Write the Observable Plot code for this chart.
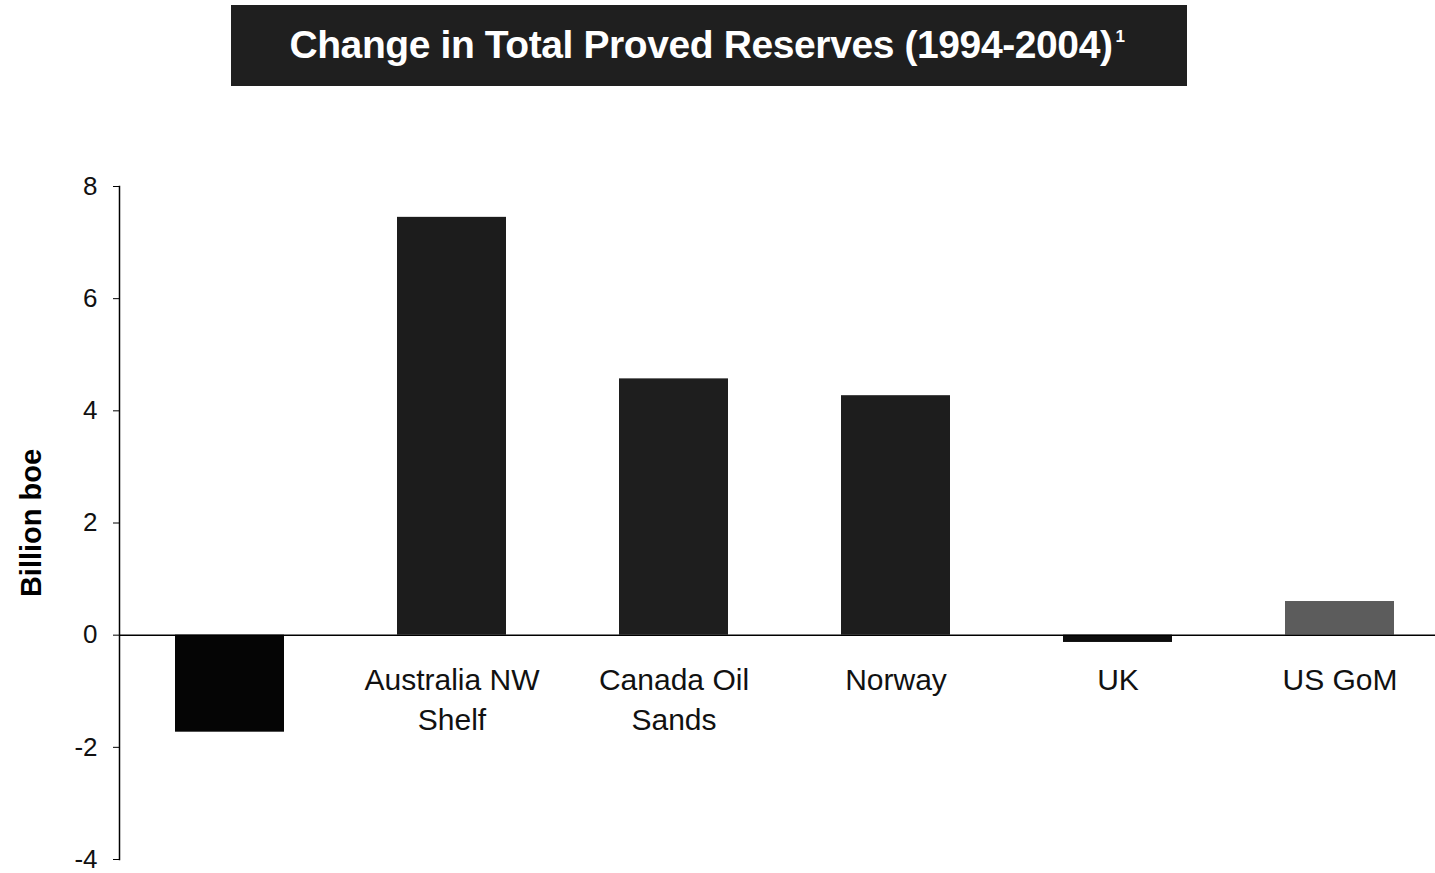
<!DOCTYPE html>
<html>
<head>
<meta charset="utf-8">
<script src="https://cdn.jsdelivr.net/npm/d3@7"></script>
<script src="https://cdn.jsdelivr.net/npm/@observablehq/plot@0.6"></script>
<style>
  html, body { margin: 0; padding: 0; background: #fff; }
  body { width: 1435px; height: 873px; overflow: hidden; font-family: "Liberation Sans", Arial, sans-serif; }
  #header { position: relative; height: 100px; }
  #title {
    position: absolute; left: 231px; top: 5px; width: 956px; height: 81px;
    background: #1f1f1f; color: #fff; font-weight: bold; font-size: 39px;
    display: flex; align-items: center; justify-content: center; letter-spacing: -0.4px;
  }
  #title span { position: relative; left: -2px; top: -1px; }
  #title sup { font-size: 17px; vertical-align: 16px; margin-left: 3px; }
  #chart svg { display: block; font-family: "Liberation Sans", Arial, sans-serif; }
  #chart svg [aria-label="y-axis label"] text { font-weight: bold; font-size: 29px; }
</style>
</head>
<body>
<div id="header"><div id="title"><span>Change in Total Proved Reserves (1994-2004)<sup>1</sup></span></div></div>
<div id="chart"></div>
<script>
const categories = ["", "Australia NW Shelf", "Canada Oil Sands", "Norway", "UK", "US GoM"];
const values = [-1.73, 7.45, 4.57, 4.27, -0.13, 0.6];
const categoryLabels = ["", "Australia NW\nShelf", "Canada Oil\nSands", "Norway", "UK", "US GoM"];
const yTicks = [-4, -2, 0, 2, 4, 6, 8];
const yLabel = "Billion boe";

const data = categories.map((c, i) => ({cat: c, value: values[i], label: categoryLabels[i]}));

const chart = Plot.plot({
  width: 1435,
  height: 773,
  marginLeft: 119,
  marginRight: -14,
  marginTop: 86,
  marginBottom: 14,
  style: {fontFamily: "'Liberation Sans', Arial, sans-serif", color: "#000", background: "transparent"},
  x: {type: "band", domain: categories, paddingInner: 0.51, paddingOuter: 0.25, axis: null},
  y: {domain: [-4, 8]},
  color: {type: "ordinal", domain: categories, range: ["#050505", "#1c1c1c", "#1e1e1e", "#1d1d1d", "#0d0d0d", "#5c5c5c"]},
  marks: [
    Plot.barY(data, {x: "cat", y: "value", fill: "cat"}),
    Plot.ruleY([0], {stroke: "#000", strokeWidth: 1.5}),
    Plot.axisY({ticks: yTicks, tickFormat: (d) => String(d), tickSize: 6, tickPadding: 16, fontSize: 26, fill: "#111", label: null}),
    Plot.axisY({ticks: [], label: yLabel, labelAnchor: "center", labelOffset: 99, labelArrow: "none", tickSize: 0}),
    Plot.frame({anchor: "left", stroke: "#000", strokeWidth: 1.5}),
    Plot.text(data, {x: "cat", y: () => 0, text: "label", dy: 26, lineAnchor: "top", fontSize: 30, lineHeight: 1.35, fill: "#111"})
  ]
});
document.getElementById("chart").appendChild(chart);
</script>
</body>
</html>
